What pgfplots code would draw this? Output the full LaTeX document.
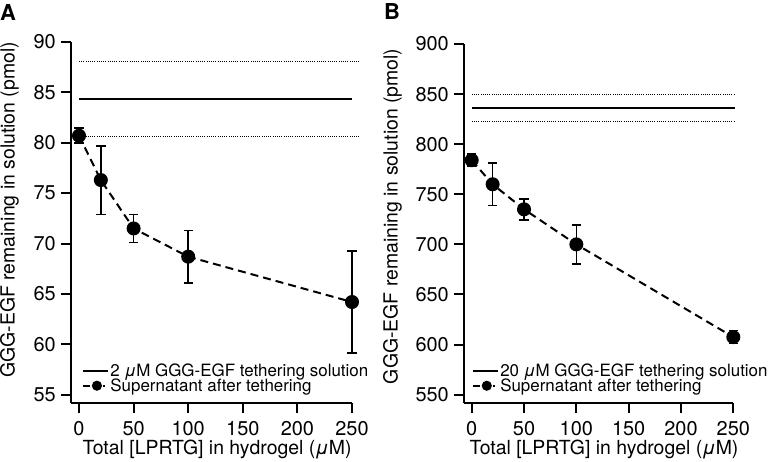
\documentclass[border=0pt]{standalone}
\usepackage{fontspec}
\setmainfont{TeX Gyre Heros}
\usepackage{pgfplots}
\usepackage{pgfplotstable}
\pgfplotsset{compat=1.18}

\pgfplotstableread{
x y e
0 80.7 0.75
20 76.3 3.4
50 71.5 1.4
100 68.7 2.6
250 64.2 5.05
}\dataA

\pgfplotstableread{
x y e
0 784 6
20 760 21
50 735 10.5
100 700 19.5
250 607.5 6.5
}\dataB

\pgfplotsset{
  common/.style={
    scale only axis,
    clip=false,
    axis x line*=bottom,
    axis y line*=left,
    axis line style={line width=2bp, -},
    every tick/.style={line width=2bp, black},
    tick align=outside,
    major tick length=10bp,
    xtick={0,50,...,250},
    /pgf/number format/assume math mode=true,
    tick label style={font=\fontsize{20}{20}\selectfont},
    xticklabel style={inner sep=2bp, yshift=-6bp},
    yticklabel style={inner sep=5bp},
    xlabel={Total [LPRTG] in hydrogel (\textit{μ}M)},
    ylabel={GGG-EGF remaining in solution (pmol)},
    xlabel style={font=\fontsize{19.5}{19.5}\selectfont, at={(axis description cs:0.52,0)}, anchor=north, inner sep=0pt, yshift=-37bp},
    legend style={draw=none, fill=none, font=\fontsize{17}{17}\selectfont, inner sep=0pt, row sep=-1bp,
      nodes={inner sep=1bp}, legend cell align=left,
      /tikz/every even column/.append style={column sep=5bp}},
    legend image code/.code={\draw[#1] plot coordinates {(0bp,0bp) (25bp,0bp)};},
  },
  datastyle/.style={black, line width=2bp, dash pattern=on 8bp off 5bp, mark=*, mark size=6bp, mark options={solid},
    legend image code/.code={\draw[##1, dash pattern=on 6.5bp off 13bp on 2.5bp off 5bp, mark size=4bp, mark repeat=2, mark phase=2] plot coordinates {(0bp,0bp) (13.5bp,0bp) (22bp,0bp)};},
    error bars/.cd, y dir=both, y explicit,
    error bar style={line width=1.6bp, solid},
    error mark options={rotate=90, mark size=4.7bp, line width=1.6bp, solid}},
}

\begin{document}
\begin{tikzpicture}
\useasboundingbox (-71bp,-59bp) rectangle (698bp,403bp);
\node[anchor=base west, inner sep=0pt] at (-71bp,382bp) {\fontsize{22}{22}\selectfont\bfseries A};
\node[anchor=base west, inner sep=0pt] at (313bp,383bp) {\fontsize{22}{22}\selectfont\bfseries B};

\begin{axis}[common, width=281bp, height=361bp,
  xmin=-7.33, xmax=250, ymin=54.18, ymax=90, ytick={55,60,...,90},
  legend style={at={(axis description cs:0.04,0.025)}, anchor=south west},
  ylabel style={font=\fontsize{19.5}{19.5}\selectfont, at={(axis description cs:-0.2527,0.535)}, anchor=north, inner sep=0pt}]
\addplot[black, line width=2bp] coordinates {(0,84.35) (250,84.35)};
\addlegendentry{2 \textit{μ}M GGG-EGF tethering solution}
\addplot[black, line width=1bp, dash pattern=on 1bp off 1.2bp, forget plot] coordinates {(0,88.1) (257,88.1)};
\addplot[black, line width=1bp, dash pattern=on 1bp off 1.2bp, forget plot] coordinates {(0,80.65) (257,80.65)};
\addplot[datastyle] table[x=x, y=y, y error=e] {\dataA};
\addlegendentry{Supernatant after tethering}
\end{axis}

\begin{axis}[common, at={(393bp,0bp)}, width=269.3bp, height=359bp,
  xmin=-7.36, xmax=250, ymin=541.7, ymax=900, ytick={550,600,...,900},
  legend style={at={(axis description cs:0.03,0.025)}, anchor=south west},
  ylabel style={font=\fontsize{19.5}{19.5}\selectfont, at={(axis description cs:-0.3008,0.52)}, anchor=north, inner sep=0pt}]
\addplot[black, line width=2bp] coordinates {(0,836.1) (251.5,836.1)};
\addlegendentry{20 \textit{μ}M GGG-EGF tethering solution}
\addplot[black, line width=1bp, dash pattern=on 1bp off 1.2bp, forget plot] coordinates {(0,849.5) (251.5,849.5)};
\addplot[black, line width=1bp, dash pattern=on 1bp off 1.2bp, forget plot] coordinates {(0,822.9) (251.5,822.9)};
\addplot[datastyle] table[x=x, y=y, y error=e] {\dataB};
\addlegendentry{Supernatant after tethering}
\end{axis}
\end{tikzpicture}
\end{document}
